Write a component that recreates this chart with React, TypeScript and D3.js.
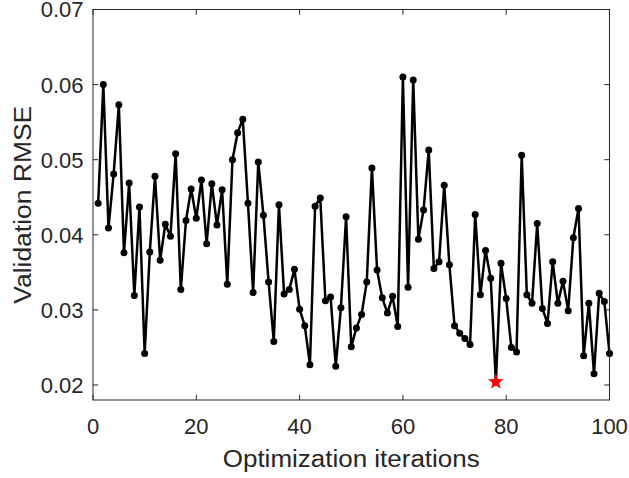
import React from "react";
import * as d3 from "d3";

const rmse: number[] = [
  0.0442, 0.0600, 0.0409, 0.0481, 0.0573, 0.0376, 0.0469, 0.0319, 0.0437, 0.0242,
  0.0377, 0.0478, 0.0366, 0.0414, 0.0398, 0.0508, 0.0327, 0.0419, 0.0461, 0.0422,
  0.0473, 0.0388, 0.0468, 0.0413, 0.0460, 0.0334, 0.0500, 0.0536, 0.0554, 0.0442,
  0.0323, 0.0497, 0.0426, 0.0337, 0.0258, 0.0440, 0.0321, 0.0327, 0.0354, 0.0301,
  0.0279, 0.0227, 0.0438, 0.0449, 0.0312, 0.0317, 0.0225, 0.0303, 0.0424, 0.0251,
  0.0276, 0.0294, 0.0337, 0.0489, 0.0353, 0.0316, 0.0296, 0.0318, 0.0278, 0.0610,
  0.0330, 0.0606, 0.0394, 0.0433, 0.0513, 0.0355, 0.0364, 0.0466, 0.0360, 0.0279,
  0.0269, 0.0262, 0.0254, 0.0427, 0.0320, 0.0379, 0.0342, 0.0204, 0.0362, 0.0315,
  0.0250, 0.0244, 0.0506, 0.0320, 0.0309, 0.0415, 0.0302, 0.0282, 0.0364, 0.0309,
  0.0338, 0.0299, 0.0396, 0.0435, 0.0239, 0.0309, 0.0215, 0.0322, 0.0311, 0.0242,
];
const iterations: number[] = rmse.map((_, i) => i + 1);

const bestIteration = 78;
const bestValue = 0.0204;

const xTicks: number[] = [0, 20, 40, 60, 80, 100];
const yTicks: number[] = [0.02, 0.03, 0.04, 0.05, 0.06, 0.07];
const xLabel = "Optimization iterations";
const yLabel = "Validation RMSE";

const W = 629;
const H = 478;
const L = 93;
const R = 609.5;
const T = 9.5;
const B = 400;

export default function App() {
  const x = d3.scaleLinear().domain([0, 100]).range([L, R]);
  const y = d3.scaleLinear().domain([0.018, 0.07]).range([B, T]);
  const pts: [number, number][] = iterations.map((it, i) => [it, rmse[i]]);
  const line = d3
    .line<[number, number]>()
    .x((d) => x(d[0]))
    .y((d) => y(d[1]));
  const star = d3.symbol().type(d3.symbolStar).size(80)();
  const axisColor = "#262626";
  const font = "Arial, 'Liberation Sans', Helvetica, sans-serif";
  const tickLen = 5.2;

  return (
    <svg
      width={W}
      height={H}
      style={{ position: "absolute", left: 0, top: 0, background: "#fff" }}
      fontFamily={font}
    >
      <rect x={0} y={0} width={W} height={H} fill="#fff" />
      <path d={line(pts) || ""} fill="none" stroke="#000" strokeWidth={2.5} strokeLinejoin="round" />
      {pts.map((d, i) => (
        <circle key={i} cx={x(d[0])} cy={y(d[1])} r={3.5} fill="#000" />
      ))}
      <path d={star || ""} transform={`translate(${x(bestIteration)},${y(bestValue)})`} fill="#ff0000" />

      <rect x={L} y={T} width={R - L} height={B - T} fill="none" stroke={axisColor} strokeWidth={1} />
      {xTicks.map((t) => (
        <g key={"xt" + t}>
          <line x1={x(t)} x2={x(t)} y1={B} y2={B - tickLen} stroke={axisColor} strokeWidth={1} />
          <line x1={x(t)} x2={x(t)} y1={T} y2={T + tickLen} stroke={axisColor} strokeWidth={1} />
          <text x={x(t)} y={433.5} textAnchor="middle" fontSize={22} fill={axisColor}>
            {t}
          </text>
        </g>
      ))}
      {yTicks.map((t) => (
        <g key={"yt" + t}>
          <line x1={L} x2={L + tickLen} y1={y(t)} y2={y(t)} stroke={axisColor} strokeWidth={1} />
          <line x1={R} x2={R - tickLen} y1={y(t)} y2={y(t)} stroke={axisColor} strokeWidth={1} />
          <text x={83.5} y={y(t)} dy="0.36em" textAnchor="end" fontSize={22} fill={axisColor}>
            {d3.format(".2f")(t)}
          </text>
        </g>
      ))}
      <text
        x={(L + R) / 2}
        y={467}
        textAnchor="middle"
        fontSize={23}
        fill={axisColor}
        textLength={257}
        lengthAdjust="spacingAndGlyphs"
      >
        {xLabel}
      </text>
      <text
        transform={`translate(31,${(T + B) / 2}) rotate(-90)`}
        textAnchor="middle"
        fontSize={23}
        fill={axisColor}
        textLength={198}
        lengthAdjust="spacingAndGlyphs"
      >
        {yLabel}
      </text>
    </svg>
  );
}
